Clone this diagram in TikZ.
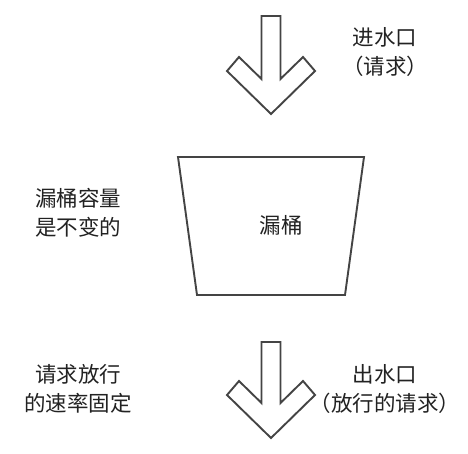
\documentclass[tikz,border=0pt]{standalone}
\usepackage{fontspec}
\newfontfamily\cjk{Noto Sans CJK SC}
\definecolor{linegray}{HTML}{444444}
\definecolor{textgray}{HTML}{222222}
\begin{document}
\begin{tikzpicture}[x=1pt,y=-1pt,
  outline/.style={draw=linegray,line width=1.9pt,line join=miter,fill=white},
  label/.style={font=\cjk\fontsize{21.5}{29}\selectfont,text=textgray,align=center,inner sep=0pt},
  pics/downarrow/.style={code={
    \draw[outline] (-9.5,-#1) -- (9.5,-#1) -- (9.5,-35) -- (32,-57) -- (44,-43)
      -- (0,0) -- (-44,-43) -- (-32,-57) -- (-9.5,-35) -- cycle;
  }}]
\useasboundingbox (0,0) rectangle (468,454);
% top arrow (tip at 271,114)
\pic at (271,114) {downarrow=98};
% bucket
\draw[outline] (178,157) -- (364,157) -- (345,295) -- (197,295) -- cycle;
% bottom arrow (tip at 271,438)
\pic at (271,438) {downarrow=96};
% labels
\node[label] (inlet) at (385,52) {进水口\\（请求）};
\node[label] (bucket) at (281,225) {漏桶};
\node[label] (capacity) at (78,213) {漏桶容量\\是不变的};
\node[label] (rate) at (78,389) {请求放行\\的速率固定};
\node[label] (outlet) at (385,389) {出水口\\（放行的请求）};
\end{tikzpicture}
\end{document}
